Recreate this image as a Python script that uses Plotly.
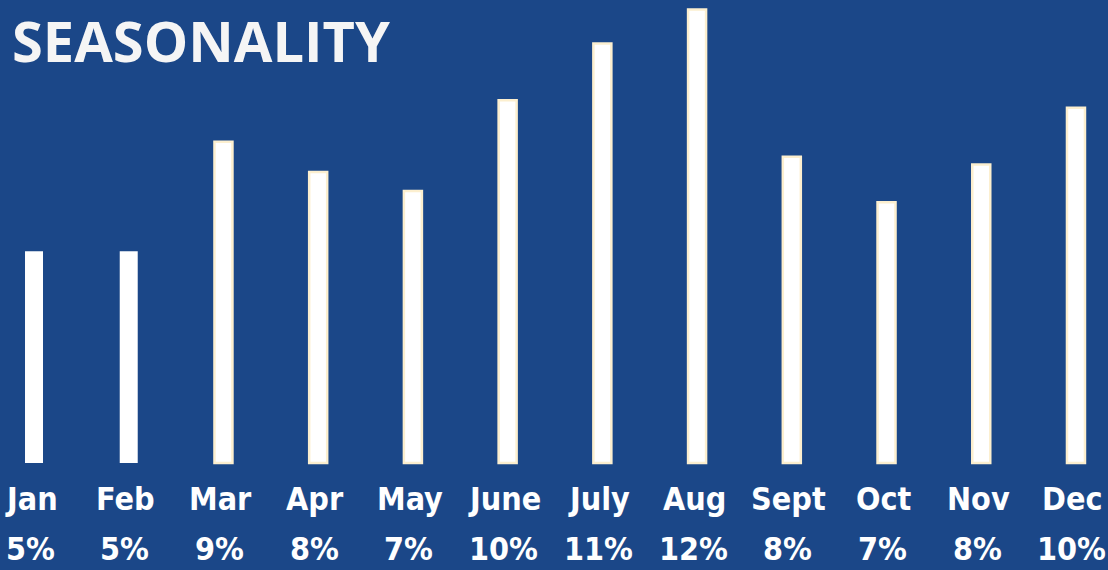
import plotly.graph_objects as go

months = ["Jan", "Feb", "Mar", "Apr", "May", "June", "July", "Aug", "Sept", "Oct", "Nov", "Dec"]
pct_labels = ["5%", "5%", "9%", "8%", "7%", "10%", "11%", "12%", "8%", "7%", "8%", "10%"]
bar_values = [5.6, 5.6, 8.5, 7.7, 7.2, 9.6, 11.1, 12.0, 8.1, 6.9, 7.9, 9.4]

BG = "#1B4788"
xs = list(range(len(months)))
edge_w = [0, 0] + [2.5] * 10

fig = go.Figure()
fig.add_trace(go.Bar(
    x=xs, y=bar_values, width=0.19,
    marker=dict(color="#FFFFFF", line=dict(color="#FCEFCF", width=edge_w)),
    hoverinfo="skip",
))

lab_font = dict(family="Liberation Sans Narrow, DejaVu Sans Condensed, sans-serif", size=32, color="#FFFFFF")
for i, (m, p) in enumerate(zip(months, pct_labels)):
    fig.add_annotation(x=i, y=0.124, yref="paper", text="<b>%s</b>" % m, showarrow=False,
                       xanchor="center", yanchor="middle", xshift=-3, font=lab_font)
    fig.add_annotation(x=i, y=0.036, yref="paper", text="<b>%s</b>" % p, showarrow=False,
                       xanchor="center", yanchor="middle", xshift=-4, font=lab_font)

fig.add_annotation(x=10 / 1108, y=0.93, xref="paper", yref="paper", text="<b>SEASONALITY</b>",
                   showarrow=False, xanchor="left", yanchor="middle",
                   font=dict(family="Open Sans, sans-serif", size=56, color="#F5F5F5"))

fig.update_layout(
    width=1108, height=570, margin=dict(l=0, r=0, t=0, b=0),
    paper_bgcolor=BG, plot_bgcolor=BG, showlegend=False,
    xaxis=dict(range=[-0.359, 11.338], visible=False, fixedrange=True),
    yaxis=dict(range=[-2.83, 12.25], visible=False, fixedrange=True),
)
fig.write_html("out.html", config={"displayModeBar": False},
               post_script="document.body.style.margin='0';document.body.style.background='%s';" % BG)
